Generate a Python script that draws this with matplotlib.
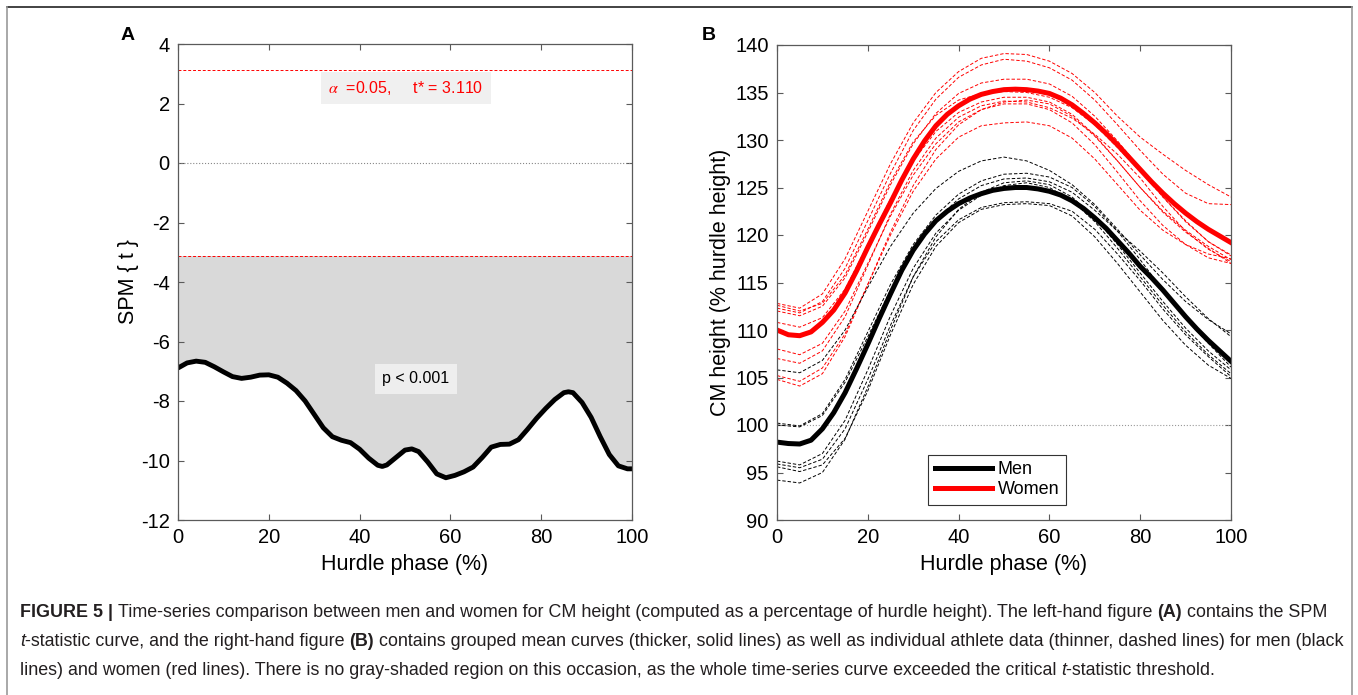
import numpy as np
import matplotlib
matplotlib.use('Agg')
import matplotlib.pyplot as plt
from matplotlib import font_manager

plt.rcParams['font.family'] = ['Liberation Sans', 'DejaVu Sans']
plt.rcParams['axes.unicode_minus'] = False
plt.rcParams['mathtext.fontset'] = 'stix'

# ---- panel A: SPM t-statistic ----
spm_x = [0, 2, 4, 6, 8, 10, 12, 14, 16, 18, 20, 22, 24, 26, 28, 30, 32, 34, 36, 38,
         40, 42, 44, 45, 46, 48, 50, 51.5, 53, 55, 57, 59, 61, 63, 65, 67, 69, 71, 73,
         75, 77, 79, 81, 83, 85, 86, 87, 89, 91, 93, 95, 97, 99, 100]
spm_t = [-6.89, -6.72, -6.66, -6.70, -6.85, -7.02, -7.18, -7.24, -7.20, -7.13, -7.12,
         -7.20, -7.40, -7.65, -8.00, -8.45, -8.90, -9.20, -9.32, -9.40, -9.62, -9.92,
         -10.16, -10.20, -10.15, -9.90, -9.65, -9.61, -9.70, -10.05, -10.45, -10.58,
         -10.50, -10.38, -10.22, -9.90, -9.55, -9.46, -9.45, -9.30, -8.95, -8.58, -8.25,
         -7.95, -7.72, -7.69, -7.72, -8.05, -8.55, -9.20, -9.80, -10.18, -10.28, -10.28]
t_crit = 3.110
alpha = 0.05

# ---- panel B: CM height (% hurdle height) ----
# group means, read every 2.5 %
phase_mean = [0, 2.5, 5, 7.5, 10, 12.5, 15, 17.5, 20, 22.5, 25, 27.5, 30, 32.5, 35, 37.5,
              40, 42.5, 45, 47.5, 50, 52.5, 55, 57.5, 60, 62.5, 65, 67.5, 70, 72.5, 75,
              77.5, 80, 82.5, 85, 87.5, 90, 92.5, 95, 97.5, 100]
men_mean = [98.2, 98.05, 98.0, 98.4, 99.6, 101.3, 103.4, 105.9, 108.5, 111.2, 113.8,
            116.3, 118.4, 120.1, 121.5, 122.5, 123.3, 123.9, 124.35, 124.7, 124.9, 125.0,
            125.0, 124.85, 124.6, 124.2, 123.6, 122.8, 121.8, 120.7, 119.4, 118.1, 116.7,
            115.5, 114.2, 112.8, 111.4, 110.1, 108.9, 107.8, 106.7]
women_mean = [110.0, 109.5, 109.4, 109.8, 110.8, 112.1, 113.9, 116.2, 118.7, 121.1, 123.4,
              125.8, 128.0, 129.9, 131.5, 132.7, 133.6, 134.3, 134.8, 135.1, 135.3, 135.35,
              135.3, 135.15, 134.9, 134.4, 133.7, 132.8, 131.8, 130.7, 129.5, 128.2, 126.9,
              125.6, 124.4, 123.3, 122.3, 121.4, 120.6, 119.9, 119.2]

# individual athletes, read every 5 %
phase = [0, 5, 10, 15, 20, 25, 30, 35, 40, 45, 50, 55, 60, 65, 70, 75, 80, 85, 90, 95, 100]

men_athletes = [
    [105.8, 105.5, 106.8, 110.0, 114.5, 118.8, 122.3, 124.9, 126.7, 127.8, 128.2,
     127.8, 126.8, 125.3, 123.2, 120.6, 117.9, 115.3, 113.0, 111.1, 109.6],
    [100.2, 99.9, 101.2, 104.8, 109.8, 114.8, 119.0, 122.1, 124.3, 125.7, 126.4,
     126.5, 126.1, 125.0, 123.0, 120.4, 117.4, 114.2, 111.2, 108.6, 106.1],
    [100.0, 99.8, 101.0, 104.5, 109.3, 114.2, 118.4, 121.6, 123.8, 125.2, 125.9,
     126.0, 125.6, 124.5, 122.6, 120.4, 118.3, 116.0, 113.5, 111.2, 109.3],
    [96.2, 95.8, 97.0, 100.5, 105.8, 111.5, 116.5, 120.2, 122.6, 124.2, 125.2,
     125.5, 125.0, 123.6, 121.4, 118.6, 115.6, 112.6, 109.8, 107.4, 105.4],
    [95.9, 95.5, 96.4, 99.6, 104.8, 110.5, 115.6, 119.3, 121.6, 122.9, 123.4,
     123.5, 123.3, 122.5, 120.6, 118.0, 115.2, 112.2, 109.5, 107.2, 105.1],
    [95.6, 95.1, 95.8, 98.6, 103.6, 109.5, 114.8, 118.8, 121.3, 122.7, 123.2,
     123.3, 123.1, 122.0, 119.8, 117.0, 114.0, 111.0, 108.4, 106.3, 104.9],
    [94.2, 93.9, 95.0, 98.5, 104.0, 110.0, 115.6, 119.8, 122.7, 124.5, 125.5,
     125.7, 125.3, 124.0, 121.8, 119.0, 116.0, 113.0, 110.2, 107.8, 105.8],
]

women_athletes = [
    [112.8, 112.3, 113.8, 117.5, 122.5, 127.5, 131.8, 135.0, 137.2, 138.6, 139.1,
     139.0, 138.3, 137.0, 135.0, 132.5, 130.3, 128.5, 126.8, 125.3, 124.0],
    [112.3, 111.8, 113.0, 116.5, 121.5, 126.5, 131.0, 134.3, 136.6, 137.9, 138.5,
     138.3, 137.6, 136.3, 134.2, 131.6, 128.9, 126.4, 124.4, 123.3, 123.2],
    [112.0, 111.5, 112.5, 115.5, 120.3, 125.3, 129.6, 132.8, 134.9, 136.0, 136.4,
     136.4, 135.9, 134.6, 132.5, 129.9, 127.0, 124.0, 121.5, 119.3, 117.8],
    [110.8, 110.3, 111.3, 114.3, 119.0, 123.8, 127.8, 130.9, 132.9, 134.0, 134.5,
     134.5, 134.0, 132.7, 130.5, 127.8, 125.0, 122.5, 120.5, 118.8, 117.4],
    [108.0, 107.4, 108.6, 112.0, 117.0, 122.0, 126.3, 129.6, 131.9, 133.2, 133.8,
     133.8, 133.2, 131.8, 129.5, 126.6, 123.6, 121.0, 119.0, 117.6, 117.0],
    [107.0, 106.5, 107.8, 111.4, 116.8, 122.2, 126.8, 130.2, 132.4, 133.6, 134.1,
     134.0, 133.4, 132.3, 130.6, 128.5, 126.0, 123.0, 120.4, 118.5, 117.2],
    [105.2, 104.6, 106.0, 109.6, 114.8, 120.0, 124.6, 128.0, 130.3, 131.5, 131.8,
     131.9, 131.5, 130.2, 128.0, 125.3, 122.6, 120.5, 119.0, 118.0, 117.5],
    [104.8, 104.1, 105.4, 109.3, 114.8, 120.3, 125.2, 129.0, 131.6, 133.2, 134.0,
     134.2, 133.8, 132.5, 130.4, 127.8, 125.0, 122.4, 120.3, 118.6, 117.0],
    [112.6, 112.0, 112.8, 115.8, 120.6, 125.6, 129.8, 132.6, 134.2, 134.9, 135.1,
     135.0, 134.5, 133.4, 131.6, 129.2, 126.7, 124.0, 121.4, 119.3, 117.9],
]

W, H = 1358, 695
fig = plt.figure(figsize=(W / 100, H / 100), dpi=100)

def px_box(left, top, right, bottom):
    return [left / W, 1 - bottom / H, (right - left) / W, (bottom - top) / H]

spine_col = '#5a5a5a'

def style_axes(ax):
    for s in ax.spines.values():
        s.set_color(spine_col)
        s.set_linewidth(0.9)
    ax.tick_params(direction='in', top=True, right=True, length=4, width=0.8,
                   color=spine_col, labelsize=14.5, pad=6)

# ---- A ----
axA = fig.add_axes(px_box(178, 44, 632, 520))
axA.fill_between(spm_x, spm_t, -t_crit, color='#d9d9d9', lw=0)
axA.axhline(t_crit, color='red', ls=(0, (3, 2)), lw=0.7)
axA.axhline(-t_crit, color='red', ls=(0, (3, 2)), lw=0.7)
axA.axhline(0, color='#888888', ls=':', lw=0.8)
axA.plot(spm_x, spm_t, color='black', lw=3.5, solid_capstyle='butt')
axA.set_xlim(0, 100)
axA.set_ylim(-12, 4)
axA.set_xticks(range(0, 101, 20))
axA.set_yticks(range(-12, 5, 2))
axA.set_xlabel('Hurdle phase (%)', fontsize=15.5, labelpad=5)
axA.set_ylabel('SPM { t }', fontsize=15.5, labelpad=1)
style_axes(axA)
axA.text(50.2, 2.52, r'$\alpha$  =0.05,     t* = 3.110', color='red', fontsize=11.5,
         ha='center', va='center',
         bbox=dict(boxstyle='square,pad=0.45', fc='#f0f0f0', ec='none'))
axA.text(52.4, -7.26, 'p < 0.001', color='black', fontsize=11.5, ha='center', va='center',
         bbox=dict(boxstyle='square,pad=0.45', fc='#eeeeee', ec='none'))

# ---- B ----
axB = fig.add_axes(px_box(777, 45, 1231, 520))
axB.axhline(100, color='#999999', ls=':', lw=0.8)
dash = (0, (3.5, 2))
for curve in women_athletes:
    axB.plot(phase, curve, color='red', lw=0.7, ls=dash)
for curve in men_athletes:
    axB.plot(phase, curve, color='black', lw=0.7, ls=dash)
axB.plot(phase_mean, men_mean, color='black', lw=3.6, label='Men')
axB.plot(phase_mean, women_mean, color='red', lw=3.6, label='Women')
axB.set_xlim(0, 100)
axB.set_ylim(90, 140)
axB.set_xticks(range(0, 101, 20))
axB.set_yticks(range(90, 141, 5))
axB.set_xlabel('Hurdle phase (%)', fontsize=15.5, labelpad=5)
axB.set_ylabel('CM height (% hurdle height)', fontsize=15.5, labelpad=3)
style_axes(axB)
leg = axB.legend(loc='lower left', bbox_to_anchor=(0.333, 0.032), borderaxespad=0,
                 fontsize=13, handlelength=3.2, handletextpad=0.3, borderpad=0.35,
                 labelspacing=0.2, fancybox=False, framealpha=1, edgecolor='#333333')
leg.get_frame().set_linewidth(0.8)

fig.text(128 / W, 1 - 36 / H, 'A', fontsize=14, fontweight='bold', ha='center', va='center')
fig.text(709 / W, 1 - 36 / H, 'B', fontsize=14, fontweight='bold', ha='center', va='center')

# ---- frame around figure + caption ----
fig.add_artist(plt.Line2D([7 / W, 1352 / W], [1 - 7 / H, 1 - 7 / H], color='#222222', lw=1.2))
fig.add_artist(plt.Line2D([7 / W, 7 / W], [1 - 7 / H, 0], color='#999999', lw=1.2))
fig.add_artist(plt.Line2D([1352 / W, 1352 / W], [1 - 7 / H, 0], color='#999999', lw=1.2))

cap_lines = [
    [('FIGURE 5 |', 'bold', 'normal', False),
     ('Time-series comparison between men and women for CM height (computed as a percentage '
      'of hurdle height). The left-hand figure', 'normal', 'normal', True),
     ('(A)', 'bold', 'normal', True),
     ('contains the SPM', 'normal', 'normal', True)],
    [('t', 'normal', 'italic', False),
     ('-statistic curve, and the right-hand figure', 'normal', 'normal', False),
     ('(B)', 'bold', 'normal', True),
     ('contains grouped mean curves (thicker, solid lines) as well as individual athlete data '
      '(thinner, dashed lines) for men (black', 'normal', 'normal', True)],
    [('lines) and women (red lines). There is no gray-shaded region on this occasion, as the '
      'whole time-series curve exceeded the critical', 'normal', 'normal', False),
     ('t', 'normal', 'italic', True),
     ('-statistic threshold.', 'normal', 'normal', False)],
]
cap_base = [617, 646, 675]
cap_font = ['Liberation Sans Narrow', 'Liberation Sans', 'DejaVu Sans']
names = {f.name for f in font_manager.fontManager.ttflist}
cap_font = [f for f in cap_font if f in names] + ['DejaVu Sans']
cap_col = '#231f20'

renderer = fig.canvas.get_renderer()

def width_px(s, size, weight='normal', style='normal'):
    t = fig.text(0, 0, s, fontsize=size, fontweight=weight, fontstyle=style, family=cap_font)
    w = t.get_window_extent(renderer).width
    t.remove()
    return w

def draw_line(runs, y_px, size, dry=False):
    space = width_px('a a', size) - width_px('aa', size)
    x = 20.0
    for txt, weight, style, gap in runs:
        if gap:
            x += space
        t = fig.text(x / W, 1 - y_px / H, txt, fontsize=size, fontweight=weight,
                     fontstyle=style, family=cap_font, color=cap_col, va='baseline')
        x += t.get_window_extent(renderer).width
        if dry:
            t.remove()
    return x

base_size = 11
end = draw_line(cap_lines[1], 0, base_size, dry=True)
cap_size = base_size * (1340 - 20) / (end - 20)
for runs, y in zip(cap_lines, cap_base):
    draw_line(runs, y, cap_size)

fig.savefig('out.png', dpi=100)
